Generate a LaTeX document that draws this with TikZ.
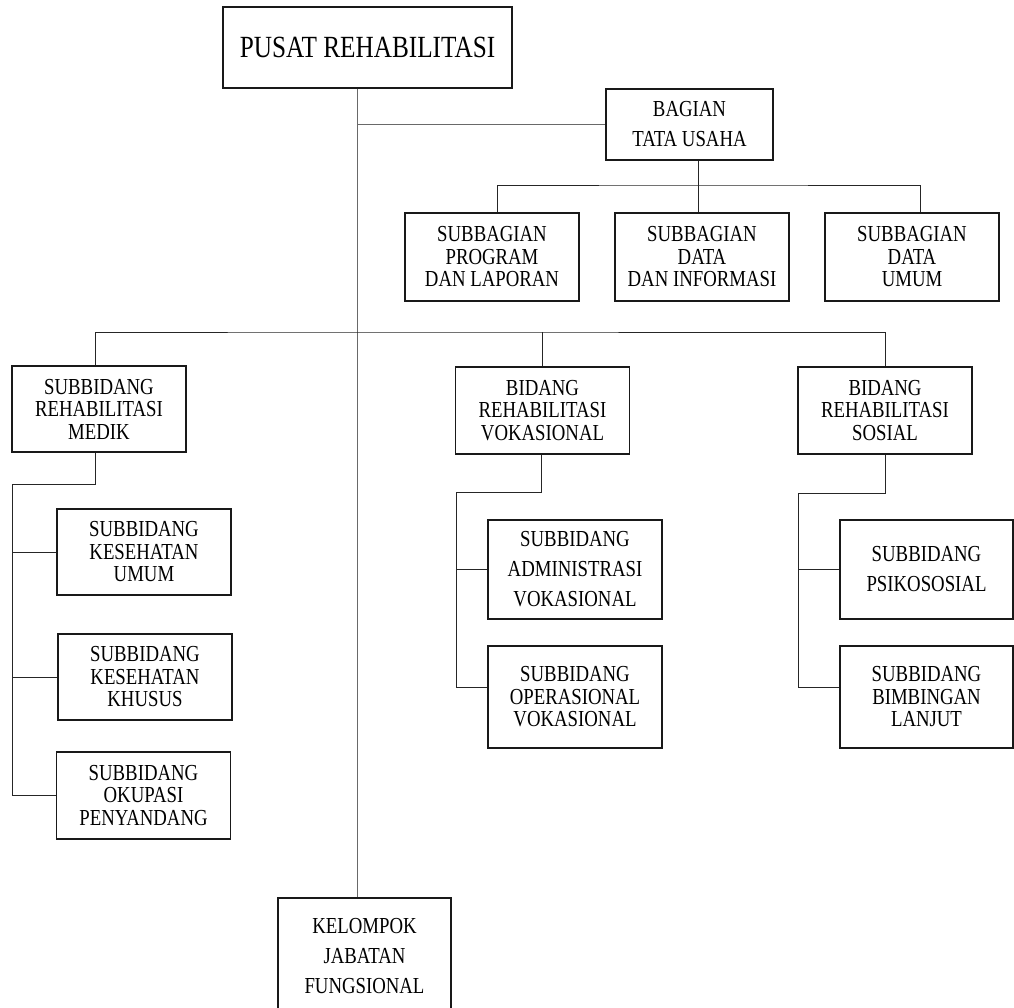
\documentclass[tikz,border=0pt]{standalone}
\usepackage{fontspec}
\setmainfont{Liberation Serif}[FakeStretch=0.82]
\usetikzlibrary{positioning}
\definecolor{spinegray}{RGB}{105,105,105}
\definecolor{boxline}{RGB}{25,25,25}
\tikzset{
  unit/.style={draw=boxline, line width=1.3pt, rectangle, inner sep=0pt, align=center,
    minimum width=174pt, minimum height=87pt, font=\fontsize{22.9}{22.5}\selectfont},
  unitloose/.style={unit, font=\fontsize{22.9}{30}\selectfont},
  link/.style={line width=1pt, black!85},
  spine/.style={line width=1pt, spinegray},
}

\begin{document}
\begin{tikzpicture}[x=1pt, y=-1pt]
  \useasboundingbox (0,0) rectangle (1014,1007);

  % pimpinan dan tata usaha
  \node[unit, minimum width=289pt, minimum height=81pt, font=\fontsize{30.8}{32}\selectfont] (pusat) at (367.5,47.5) {PUSAT REHABILITASI};
  \node[unitloose, minimum width=167pt, minimum height=71pt] (tu) at (689.5,124.5) {BAGIAN\\TATA USAHA};
  \node[unit, minimum height=88pt] (sbProg) at (492,257) {SUBBAGIAN\\PROGRAM\\DAN LAPORAN};
  \node[unit, minimum height=88pt] (sbData) at (702,257) {SUBBAGIAN\\DATA\\DAN INFORMASI};
  \node[unit, minimum height=88pt] (sbUmum) at (912,257) {SUBBAGIAN\\DATA\\UMUM};

  % bidang
  \node[unit, minimum height=86pt] (medik) at (99,409) {SUBBIDANG\\REHABILITASI\\MEDIK};
  \node[unit] (vok) at (542.5,410.5) {BIDANG\\REHABILITASI\\VOKASIONAL};
  \node[unit] (sos) at (885,410.5) {BIDANG\\REHABILITASI\\SOSIAL};

  % subbidang
  \node[unit, minimum height=86pt] (kesUmum) at (144,552) {SUBBIDANG\\KESEHATAN\\UMUM};
  \node[unit, minimum height=86pt] (kesKhusus) at (145,677) {SUBBIDANG\\KESEHATAN\\KHUSUS};
  \node[unit] (okupasi) at (143.5,795.5) {SUBBIDANG\\OKUPASI\\PENYANDANG};
  \node[unitloose, minimum height=99pt] (admin) at (575,569.5) {SUBBIDANG\\ADMINISTRASI\\VOKASIONAL};
  \node[unit, minimum height=102pt] (operasional) at (575,697) {SUBBIDANG\\OPERASIONAL\\VOKASIONAL};
  \node[unitloose, minimum width=173pt, minimum height=99pt] (psiko) at (926.5,569.5) {SUBBIDANG\\PSIKOSOSIAL};
  \node[unit, minimum width=173pt, minimum height=102pt] (bimbingan) at (926.5,697) {SUBBIDANG\\BIMBINGAN\\LANJUT};

  \node[unitloose, minimum width=173pt, minimum height=116pt] (kelompok) at (364.5,956) {KELOMPOK\\JABATAN\\FUNGSIONAL};

  % garis utama
  \coordinate (spine) at (357,0);
  \draw[spine] (spine |- pusat.south) -- (spine |- kelompok.north);
  \draw[spine] (spine |- tu.west) -- (tu.west);

  \coordinate (tuBar) at (698,185);
  \draw[link] (tuBar |- tu.south) -- (tuBar |- sbData.north);
  \draw[link] ([xshift=5pt]sbProg.north) |- (tuBar) -| ([xshift=8pt]sbUmum.north);

  \coordinate (mainBar) at (357,332);
  \draw[link] ([xshift=-4pt]medik.north) |- (mainBar) -| (sos.north);
  \draw[link] (vok.north) -- (vok.north |- mainBar);

  % cabang subbidang
  \coordinate (medikBend) at (12,484);
  \draw[link] ([xshift=-4pt]medik.south) |- (medikBend) |- (okupasi.west);
  \draw[link] (medikBend |- kesUmum.west) -- (kesUmum.west);
  \draw[link] (medikBend |- kesKhusus.west) -- (kesKhusus.west);

  \coordinate (vokBend) at (456,492);
  \draw[link] ([xshift=-1pt]vok.south) |- (vokBend) |- ([yshift=10pt]operasional.west);
  \draw[link] (vokBend |- admin.west) -- (admin.west);

  \coordinate (sosBend) at (798,493);
  \draw[link] (sos.south) |- (sosBend) |- ([yshift=10pt]bimbingan.west);
  \draw[link] (sosBend |- psiko.west) -- (psiko.west);
\end{tikzpicture}
\end{document}
